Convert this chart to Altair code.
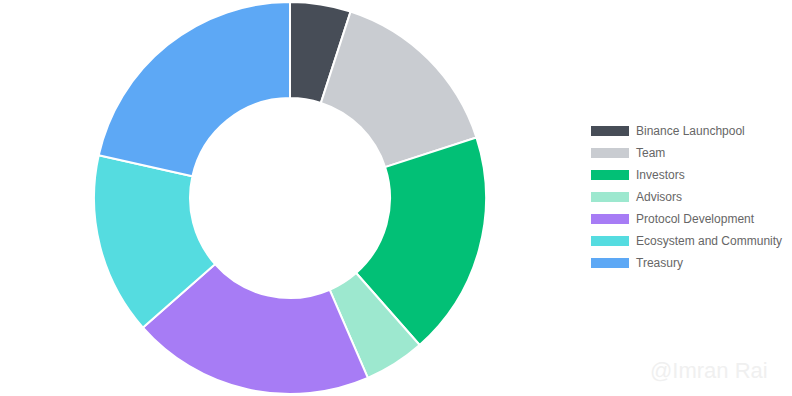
import altair as alt
import pandas as pd

categories = ["Binance Launchpool", "Team", "Investors", "Advisors",
              "Protocol Development", "Ecosystem and Community", "Treasury"]
values = [5, 15, 18.5, 5, 20, 15, 21.5]
colors = ["#474D57", "#C9CCD1", "#02C076", "#9DE8CF", "#A77CF5", "#55DCE0", "#5DA8F5"]

df = pd.DataFrame({"category": categories, "value": values, "order": list(range(len(categories)))})

arc = alt.Chart(df).mark_arc(radius=196, radius2=100, stroke="white", strokeWidth=2).encode(
    theta=alt.Theta("value:Q", stack=True),
    order=alt.Order("order:Q"),
    color=alt.Color("category:N", sort=categories,
                    scale=alt.Scale(domain=categories, range=colors),
                    legend=alt.Legend(title=None, orient="none", legendX=591, legendY=120,
                                      symbolType="M-1,-0.263H1V0.263H-1Z", symbolSize=1444,
                                      symbolStrokeWidth=0, labelFont="Liberation Sans",
                                      labelFontSize=12, labelColor="#666666", labelOffset=7,
                                      clipHeight=22, rowPadding=0)),
    x=alt.value(290), y=alt.value(198),
)

wm = alt.Chart(pd.DataFrame({"t": ["@Imran Rai"]})).mark_text(
    font="Liberation Sans", fontSize=22, color="#f0f0f0", align="left", baseline="middle"
).encode(text="t:N", x=alt.value(650), y=alt.value(371))

chart = alt.layer(arc, wm).properties(width=792, height=396, padding=0,
                                      autosize=alt.AutoSizeParams(type="none")).configure_view(stroke=None)
chart.save("out.html", embed_options={"renderer": "svg", "actions": False})
